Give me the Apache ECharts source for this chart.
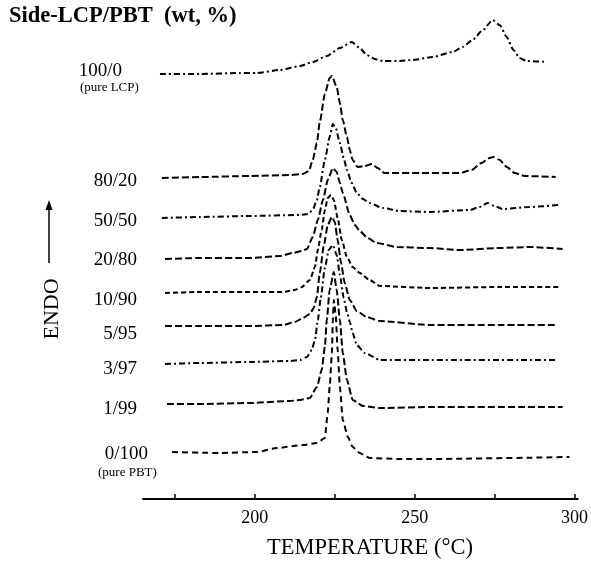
<!DOCTYPE html>
<html>
<head>
<meta charset="utf-8">
<script src="https://cdn.jsdelivr.net/npm/echarts@6/dist/echarts.min.js"></script>
<style>html,body{margin:0;padding:0;background:#fff}#c{width:591px;height:575px}</style>
</head>
<body>
<div id="c"></div>
<script>
// Temperature (°C) vs stacked ENDO signal (arbitrary units, offset per curve)
const sampleNames = ["100/0", "80/20", "50/50", "20/80", "10/90", "5/95", "3/97", "1/99", "0/100"];
const sampleNotes = ["(pure LCP)", "", "", "", "", "", "", "", "(pure PBT)"];
const xTickValues = [175, 200, 225, 250, 275, 300];
const xLabelValues = [200, 250, 300];

const c100_0 = [[170.3,425],[182.8,425],[195.3,426],[200.6,426],[207.8,429],[214.1,433],[218.1,437],[222.5,443],[226.6,451],[230.3,457],[232.8,451],[235.0,444],[237.5,440],[240.0,438],[245.3,438],[249.4,439],[255.6,442],[261.9,447],[265.0,452],[268.1,459],[271.3,469],[274.4,479],[276.6,474],[278.8,462],[280.9,449],[282.8,441],[285.0,438],[291.3,437]];
const c80_20 = [[170.9,321],[182.8,322],[198.4,323],[210.9,324],[215.0,325],[216.9,328],[218.1,339],[219.4,356],[220.3,377],[221.9,405],[223.4,421],[224.1,423],[225.6,412],[226.6,396],[227.5,379],[228.8,362],[229.7,349],[230.6,339],[232.2,332],[234.4,333],[236.6,335],[238.4,331],[240.6,326],[251.6,326],[264.1,326],[267.8,329],[270.9,336],[273.4,341],[274.7,342],[276.6,339],[278.8,332],[281.3,326],[284.4,323],[294.1,322]];
const c50_50 = [[170.9,281],[182.8,282],[198.4,283],[214.1,284],[216.6,285],[218.1,289],[219.4,299],[220.3,312],[221.9,339],[223.4,362],[224.4,375],[225.3,371],[226.6,356],[227.8,341],[228.8,329],[230.3,316],[231.9,306],[233.8,300],[235.9,296],[240.0,291],[245.3,288],[254.7,287],[267.2,289],[270.3,292],[272.8,296],[275.0,293],[277.5,290],[285.9,292],[295.3,294]];
const c20_80 = [[171.9,240],[182.8,241],[198.4,241],[207.8,243],[211.9,246],[214.7,248],[216.3,250],[218.1,262],[219.7,279],[221.3,299],[222.8,319],[224.4,331],[225.6,327],[226.6,316],[227.5,306],[229.7,284],[231.3,274],[232.8,268],[235.3,261],[238.1,256],[244.4,252],[254.7,251],[264.1,249],[276.6,251],[285.9,252],[296.3,250]];
const c10_90 = [[171.9,206],[182.8,207],[198.4,207],[208.8,207],[212.5,209],[214.7,212],[217.2,219],[218.8,232],[219.7,249],[220.9,269],[221.9,289],[222.8,301],[223.8,304],[224.7,299],[225.9,281],[227.2,259],[228.8,242],[230.6,232],[232.8,226],[235.9,219],[239.1,213],[254.7,211],[276.6,212],[295.3,212]];
const c5_95 = [[171.9,173],[182.8,173],[198.4,173],[208.8,174],[212.5,177],[215.0,181],[217.2,185],[218.4,191],[219.4,202],[220.3,226],[221.6,254],[222.8,274],[224.1,282],[225.0,277],[225.9,259],[226.9,237],[228.1,216],[229.7,199],[231.9,188],[235.0,182],[239.1,178],[254.7,174],[276.6,174],[294.7,174]];
const c3_97 = [[171.9,135],[182.8,136],[198.4,137],[210.9,138],[214.1,139],[216.3,142],[217.8,149],[218.8,159],[219.7,179],[220.6,201],[221.9,231],[223.1,249],[224.4,254],[225.6,244],[226.6,224],[227.8,201],[228.8,187],[229.7,177],[230.6,166],[231.9,154],[234.4,146],[239.1,139],[254.7,139],[294.4,139]];
const c1_99 = [[172.5,95],[182.8,95],[198.4,96],[210.9,98],[214.1,99],[217.2,101],[219.4,112],[220.9,129],[221.9,152],[222.5,179],[223.4,209],[224.7,227],[225.6,209],[226.6,179],[227.5,146],[228.8,119],[230.6,99],[233.8,93],[239.1,91],[254.7,92],[296.3,92]];
const c0_100 = [[174.1,47],[189.1,46],[200.6,47],[206.9,51],[215.0,54],[219.4,56],[221.9,61],[222.8,86],[223.4,112],[224.1,146],[224.4,179],[224.7,199],[225.3,184],[225.9,149],[226.6,112],[227.5,79],[229.1,62],[230.6,52],[232.8,46],[235.9,41],[245.3,40],[254.7,40],[298.4,42]];

const curves = [c100_0, c80_20, c50_50, c20_80, c10_90, c5_95, c3_97, c1_99, c0_100];
const dashes = [[6,3,2,3],[7,3],[6,3,2,3],[7,3],[5,3],[7,3],[6,3,2,3],[7,3],[6,4]];

const chart = echarts.init(document.getElementById('c'), null, {renderer: 'canvas'});
const serif = '"Liberation Serif", "DejaVu Serif", serif';

const series = curves.map((d, i) => ({
  type: 'line',
  name: sampleNames[i],
  data: d,
  showSymbol: false,
  smooth: 0.2,
  smoothMonotone: 'x',
  lineStyle: {color: '#000', width: 2, type: dashes[i]},
  silent: true,
  animation: false
}));

const labelY = [72, 182, 222, 261, 301, 335, 370, 410, 455];
const labelRight = [122, 137, 137, 137, 137, 137, 137, 137, 148];
const graphics = [];
sampleNames.forEach((n, i) => {
  graphics.push({type: 'text', right: 591 - labelRight[i], top: labelY[i] - 10,
    style: {text: n, font: '19px ' + serif, fill: '#000', textAlign: 'right'}});
});
graphics.push({type: 'text', left: 80, top: 81, style: {text: sampleNotes[0], font: '13px ' + serif, fill: '#000'}});
graphics.push({type: 'text', left: 98, top: 466, style: {text: sampleNotes[8], font: '13px ' + serif, fill: '#000'}});
graphics.push({type: 'text', left: 9, top: 5, style: {text: 'Side-LCP/PBT  (wt, %)', font: 'bold 22.5px ' + serif, fill: '#000'}});
graphics.push({type: 'text', x: 370, y: 548, style: {text: 'TEMPERATURE (°C)', font: '22.5px ' + serif, fill: '#000', textAlign: 'center', textVerticalAlign: 'middle'}});
graphics.push({type: 'text', x: 52, y: 309, rotation: Math.PI / 2, style: {text: 'ENDO', font: '22px ' + serif, fill: '#000', textAlign: 'center', textVerticalAlign: 'middle'}});
graphics.push({type: 'line', shape: {x1: 49, y1: 263, x2: 49, y2: 205}, style: {stroke: '#000', lineWidth: 1.5}});
graphics.push({type: 'polygon', shape: {points: [[49, 200], [45.5, 210], [52.5, 210]]}, style: {fill: '#000'}});

chart.setOption({
  backgroundColor: '#fff',
  animation: false,
  grid: {left: 143, right: 13, top: 0, bottom: 76},
  xAxis: {
    type: 'value', min: 165, max: 301,
    axisLine: {show: true, lineStyle: {color: '#000', width: 2}},
    axisTick: {show: true, inside: true, length: 5, lineStyle: {color: '#000', width: 1.5}, customValues: xTickValues},
    axisLabel: {customValues: xLabelValues, color: '#000', fontFamily: '"Liberation Serif", serif', fontSize: 18, margin: 10},
    splitLine: {show: false}
  },
  yAxis: {type: 'value', min: 0, max: 499, show: false},
  series: series,
  graphic: graphics
});
</script>
</body>
</html>
